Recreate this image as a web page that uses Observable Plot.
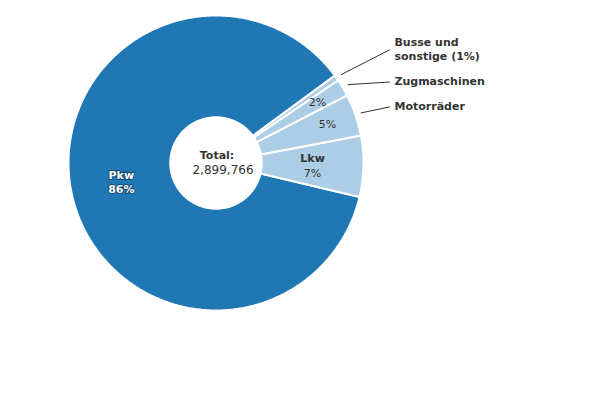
<!DOCTYPE html>
<html>
<head>
<meta charset="utf-8">
<script src="https://cdn.jsdelivr.net/npm/d3@7"></script>
<script src="https://cdn.jsdelivr.net/npm/@observablehq/plot@0.6"></script>
<style>
  html, body { margin: 0; padding: 0; background: #fff; }
  #chart svg { display: block; }
</style>
</head>
<body>
<div id="chart"></div>
<script>
// ---- data ----
const categories = ["Pkw", "Lkw", "Motorräder", "Zugmaschinen", "Busse und sonstige"];
const values = [2500266, 194000, 133000, 55000, 17500];
const sliceColors = ["#1f77b4", "#abcde5", "#abcde5", "#abcde5", "#abcde5"];
const insideName = [true, true, false, false, false];
const insidePct = [true, true, true, true, false];
const outsideLabels = ["", "", "Motorräder", "Zugmaschinen", "Busse und\nsonstige (1%)"];
const totalLabel = "Total:";

// ---- layout ----
const START_DEG = 53.7;          // where the slices begin (clockwise from 12 o'clock)
const R_INNER = 0.31, R_OUTER = 1;
const extLabelX = 1.21;
const extLabelY = [null, null, 0.39, 0.559, 0.777];

const total = d3.sum(values);
const rows = categories.map((name, i) => ({name, value: values[i], i}));
const rad = d => d * Math.PI / 180;
const pie = d3.pie().sort(null).value(d => d.value)
  .startAngle(rad(START_DEG) + 2 * Math.PI).endAngle(rad(START_DEG));
const arcs = pie(rows);

const pt = (r, a) => ({x: r * Math.sin(a), y: r * Math.cos(a)});

// polygons for the slices
const poly = [];
for (const a of arcs) {
  const n = Math.max(2, Math.ceil(Math.abs(a.endAngle - a.startAngle) / rad(0.5)));
  for (let k = 0; k <= n; k++) {
    const t = a.startAngle + (a.endAngle - a.startAngle) * k / n;
    poly.push({name: a.data.name, ...pt(R_OUTER, t)});
  }
  for (let k = n; k >= 0; k--) {
    const t = a.startAngle + (a.endAngle - a.startAngle) * k / n;
    poly.push({name: a.data.name, ...pt(R_INNER, t)});
  }
}

const pctFmt = v => Math.round(v / total * 100) + "%";
const labels = arcs.map(a => {
  const mid = (a.startAngle + a.endAngle) / 2;
  const share = a.data.value / total;
  const r = share < 0.06 ? 0.8 : 0.655;
  return {
    ...pt(r, mid),
    name: a.data.name,
    pct: pctFmt(a.data.value),
    i: a.data.i
  };
});

const mainLabel = labels.filter(d => d.i === 0);
const darkName = labels.filter(d => d.i !== 0 && insideName[d.i]);
const darkPctTwoLine = labels.filter(d => d.i !== 0 && insidePct[d.i] && insideName[d.i]);
const darkPctOnly = labels.filter(d => insidePct[d.i] && !insideName[d.i]);

const ext = arcs.filter(a => outsideLabels[a.data.i]).map(a => {
  const mid = (a.startAngle + a.endAngle) / 2;
  return {
    text: outsideLabels[a.data.i],
    start: pt(1.04, mid),
    x: extLabelX,
    y: extLabelY[a.data.i]
  };
});
const connectors = ext.flatMap((d, j) => [
  {j, x: d.start.x, y: d.start.y},
  {j, x: d.x - 5 / 147.5, y: d.y - 0.01}
]);

const chart = Plot.plot({
  width: 600,
  height: 400,
  marginLeft: 68,
  marginRight: 237,
  marginTop: 15,
  marginBottom: 90,
  x: {domain: [-1, 1], axis: null},
  y: {domain: [-1, 1], axis: null},
  color: {domain: categories, range: sliceColors},
  style: {fontFamily: "DejaVu Sans", fontSize: "11px", color: "#333", background: "#fff"},
  marks: [
    Plot.line(poly, {x: "x", y: "y", z: "name", fill: "name", stroke: "white", strokeWidth: 2, curve: "linear-closed"}),
    Plot.line(connectors, {x: "x", y: "y", z: "j", stroke: "#333", strokeWidth: 1}),
    // Pkw label (white with dark halo)
    Plot.text(mainLabel, {x: "x", y: "y", text: "name", dy: -7, fill: "white", fontWeight: "bold", fontSize: 11, stroke: "rgba(0,0,0,0.4)", strokeWidth: 2}),
    Plot.text(mainLabel, {x: "x", y: "y", text: "pct", dy: 7, fill: "white", fontWeight: "bold", fontSize: 11, stroke: "rgba(0,0,0,0.4)", strokeWidth: 2}),
    // other inside labels
    Plot.text(darkName, {x: "x", y: "y", text: "name", dy: -7, fill: "#333", fontWeight: "bold", fontSize: 11}),
    Plot.text(darkPctTwoLine, {x: "x", y: "y", text: "pct", dy: 8, fill: "#333", fontSize: 11}),
    Plot.text(darkPctOnly, {x: "x", y: "y", text: "pct", fill: "#333", fontSize: 11}),
    // outside labels
    Plot.text(ext, {x: "x", y: "y", text: "text", textAnchor: "start", fill: "#333", fontWeight: "bold", fontSize: 11, lineHeight: 1.32}),
    // centre total
    Plot.text([totalLabel], {x: [0], y: [0.054], text: d => d, dx: 1, fill: "#333", fontWeight: "bold", fontSize: 11}),
    Plot.text([d3.format(",")(total)], {x: [0], y: [-0.047], text: d => d, dx: 7, fill: "#333", fontSize: 12})
  ]
});
document.getElementById("chart").appendChild(chart);
</script>
</body>
</html>
